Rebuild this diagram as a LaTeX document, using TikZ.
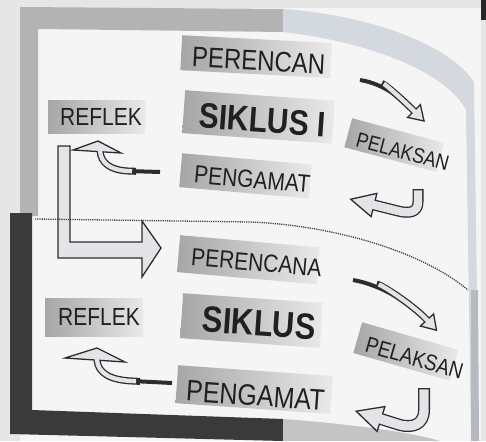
\documentclass[tikz,border=0pt]{standalone}
\usepackage{fontspec}
\setmainfont{Liberation Sans}
\definecolor{pagebg}{HTML}{E6E6E6}
\definecolor{panel}{HTML}{F5F5F5}
\definecolor{frameA}{HTML}{B3B3B3}
\definecolor{frameB}{HTML}{D4D9E0}
\definecolor{frameC}{HTML}{3A3A3A}
\definecolor{frameD}{HTML}{C4C4C4}
\definecolor{boxL}{HTML}{A6A6A6}
\definecolor{boxR}{HTML}{E9E9E9}
\definecolor{ink}{HTML}{202020}
\definecolor{arrowline}{HTML}{2C2C2C}
\definecolor{arrowfill}{HTML}{E2E4E8}

% one grey label: name, x, y, width, height, angle, font, text, text offset
\newcommand\lblbox[9]{%
  \begin{scope}[rotate around={#6:(#2,#3)}, transform shape]
    \node[tagbox, minimum width=#4pt, minimum height=#5pt, anchor=north west] (#1) at (#2,#3) {};
    \node[tagtext, font=#7, anchor=west] (#1-t) at ([#9]#1.west) {#8};
  \end{scope}}

\begin{document}
\begin{tikzpicture}[x=1pt, y=-1pt,
  tagbox/.style={rectangle, inner sep=0pt, left color=boxL, right color=boxR, draw=none},
  tagtext/.style={inner sep=0pt, text=ink, yscale=1.18},
  shaftout/.style={draw=arrowline, line cap=butt, line join=round},
  shaftin/.style={draw=arrowfill, line cap=butt, line join=round},
  tail/.style={draw=arrowline, line width=4pt, line cap=butt},
  headst/.style={fill=arrowfill, draw=arrowline, line width=1.3pt, line join=miter},
  cutline/.style={draw=black!75, line width=1.3pt, dash pattern=on 1.2pt off 1pt}]

\useasboundingbox (0,0) rectangle (486,441);

% page and inner panel
\fill[pagebg] (0,0) rectangle (486,441);
\fill[panel] (20,8) rectangle (481,441);
\fill[black!85] (481,0) rectangle (486,20);

% upper frame (grey) with its pale curved continuation on the right
\fill[frameA] (20,7) -- (283,9) -- (283,32) -- (38,29) -- (38,216) -- (20,216) -- cycle;
\fill[frameB] (283,9) .. controls (370,15) and (450,45) .. (474,82)
  -- (479,441) -- (471,441) -- (466,110)
  .. controls (446,72) and (370,42) .. (283,32) -- cycle;
\fill[frameB!80!black!85] (471,290) -- (478,290) -- (479,441) -- (471,441) -- cycle;

% lower frame (dark)
\fill[frameC] (10,213) -- (32,213) -- (32,410) -- (283,419) -- (283,441) -- (10,434) -- cycle;
\fill[frameD] (283,419) .. controls (350,424) and (410,432) .. (440,441) -- (283,441) -- cycle;

% ---------------- cycle I ----------------
\lblbox{per1}{182}{35}{150}{35}{-3}{\fontsize{24}{26}\selectfont}{PERENCAN}{xshift=11pt,yshift=-4pt}
\lblbox{sik1}{185}{90}{150}{43}{-4}{\fontsize{30}{32}\selectfont\bfseries}{SIKLUS I}{xshift=16pt,yshift=-3pt}
\lblbox{ref1}{48}{100}{97}{33}{0}{\fontsize{21}{23}\selectfont}{REFLEK}{xshift=12pt}
\lblbox{pel1}{352}{118}{95}{30}{-15}{\fontsize{18}{20}\selectfont}{PELAKSAN}{xshift=10pt,yshift=-4pt}
\lblbox{pen1}{182}{153}{130}{34}{-5}{\fontsize{21}{23}\selectfont}{PENGAMAT}{xshift=14pt,yshift=-3pt}

% planning -> acting
\draw[tail] (360,80) .. controls (385,84) and (403,100) .. (414,111);
\draw[shaftout, line width=7pt, shorten <=22pt] (360,80) .. controls (385,84) and (403,100) .. (414,111);
\filldraw[headst] (420.4,104.6) -- (424,121) -- (407.6,117.4) -- cycle;
\draw[shaftin, line width=4.4pt, shorten <=24pt] (360,80) .. controls (385,84) and (403,100) .. (414,111) -- (416,113);

% acting -> observing
\draw[shaftout, line width=11pt] (418,189) -- (418,202) .. controls (418,212) and (410,214) .. (398,211) -- (374,205);
\filldraw[headst] (376.9,193.4) -- (350.7,199.2) -- (371.1,216.6) -- cycle;
\draw[shaftin, line width=8.4pt] (418,190.3) -- (418,202) .. controls (418,212) and (410,214) .. (398,211) -- (372,204.5);

% observing -> reflecting
\draw[tail] (128,171) -- (160,172);
\draw[shaftout, line width=7pt] (100,151) .. controls (101,163) and (110,170) .. (128,171) -- (136,171.3);
\filldraw[headst] (73,150) -- (98,141) -- (121,153) -- cycle;
\draw[shaftin, line width=4.4pt] (100,149) -- (100,151) .. controls (101,163) and (110,170) .. (128,171) -- (132,171.1);

% reflecting -> next planning
\filldraw[headst] (58,146) -- (70,146) -- (70,242) -- (142,242) -- (142,221)
  -- (161,248) -- (142,277) -- (142,258) -- (58,258) -- cycle;

% ---------------- cycle II ----------------
\lblbox{per2}{180}{235}{140}{37}{-5}{\fontsize{21}{23}\selectfont}{PERENCANA}{xshift=13pt,yshift=-2pt}
\lblbox{sik2}{183}{293}{140}{45}{-4}{\fontsize{31}{33}\selectfont\bfseries}{SIKLUS}{xshift=21pt,yshift=-2pt}
\lblbox{ref2}{45}{298}{98}{38}{0}{\fontsize{21}{23}\selectfont}{REFLEK}{xshift=13pt}
\lblbox{pel2}{362}{322}{100}{32}{-16}{\fontsize{19}{21}\selectfont}{PELAKSAN}{xshift=10pt,yshift=-4pt}
\lblbox{pen2}{178}{365}{155}{38}{-4}{\fontsize{25}{27}\selectfont}{PENGAMAT}{xshift=10pt,yshift=-6pt}

% planning -> acting
\draw[tail] (353,280) .. controls (382,285) and (413,305) .. (427,320);
\draw[shaftout, line width=7pt, shorten <=24pt] (353,280) .. controls (382,285) and (413,305) .. (427,320);
\filldraw[headst] (433.6,313.9) -- (436.5,330.2) -- (420.4,326.1) -- cycle;
\draw[shaftin, line width=4.4pt, shorten <=26pt] (353,280) .. controls (382,285) and (413,305) .. (427,320) -- (429,322);

% acting -> observing
\draw[shaftout, line width=12pt] (424,388) -- (424,410) .. controls (424,425) and (412,428) .. (400,425) -- (381,419);
\filldraw[headst] (384.9,406.6) -- (356.2,411.2) -- (377.1,431.4) -- cycle;
\draw[shaftin, line width=9.4pt] (424,389.3) -- (424,410) .. controls (424,425) and (412,428) .. (400,425) -- (379,418.4);

% observing -> reflecting
\draw[tail] (132,381) -- (172,383);
\draw[shaftout, line width=7pt] (97,360) .. controls (98,373) and (110,380) .. (132,381) -- (140,381.4);
\filldraw[headst] (65,358) -- (97,348) -- (125,362) -- cycle;
\draw[shaftin, line width=4.4pt] (97,358) -- (97,360) .. controls (98,373) and (110,380) .. (132,381) -- (136,381.2);

% cut line between the two cycles
\draw[cutline] (35,219) -- (250,222) .. controls (330,225) and (420,250) .. (468,290);

\end{tikzpicture}
\end{document}
